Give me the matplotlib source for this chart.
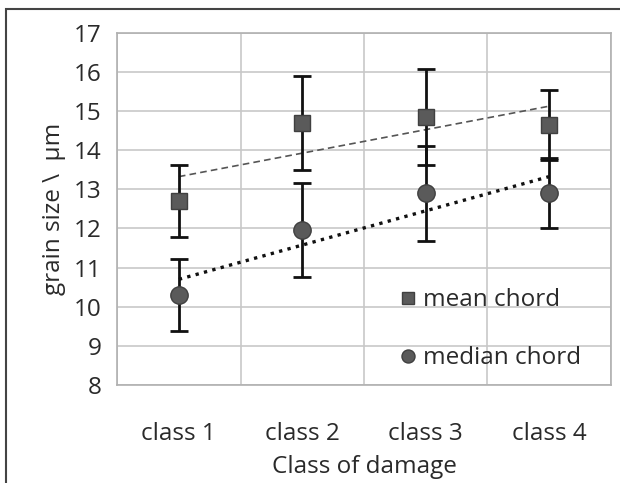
import numpy as np
import matplotlib.pyplot as plt
from matplotlib.patches import Rectangle

plt.rcParams['font.family'] = ['Open Sans', 'DejaVu Sans']

classes = ["class 1", "class 2", "class 3", "class 4"]
mean_chord = [12.7, 14.7, 14.85, 14.65]
mean_err = [0.93, 1.2, 1.22, 0.9]
median_chord = [10.3, 11.95, 12.9, 12.9]
median_err = [0.92, 1.2, 1.22, 0.9]

x = np.arange(1, len(classes) + 1)
fs = 17.5

fig = plt.figure(figsize=(6.2, 4.83), dpi=100)
ax = fig.add_axes([0.189, 0.203, 0.796, 0.729])

txt = '#2a2a2a'
ax.grid(True, color='#c8c8c8', lw=1.2)
ax.set_axisbelow(True)
ax.set_xticks(np.arange(0.5, 4.6, 1), minor=False)
ax.set_xticks(x, minor=True)
ax.set_xticklabels([])
ax.set_xticklabels(classes, minor=True)
ax.tick_params(axis='x', which='both', length=0, pad=27, labelsize=fs, labelcolor=txt)
ax.tick_params(axis='y', length=0, pad=11, labelsize=fs, labelcolor=txt)
ax.set_xlim(0.5, 4.5)
ax.set_ylim(8, 17)
ax.set_yticks(range(8, 18))
for s in ax.spines.values():
    s.set_color('#b0b0b0')
    s.set_linewidth(1.2)

# trend lines
pm = np.polyfit(x, mean_chord, 1)
pd_ = np.polyfit(x, median_chord, 1)
ax.plot(x, np.polyval(pm, x), ls=(0, (4, 2.5)), color='#555555', lw=1.2, zorder=2)
ax.plot(x, np.polyval(pd_, x), ls=(0, (1, 1.6)), color='#111111', lw=2.4, zorder=2)

ax.errorbar(x, mean_chord, yerr=mean_err, fmt='s', ms=12, mfc='#5a5a5a', mec='#404040',
            ecolor='#111111', elinewidth=2, capsize=6.5, capthick=2, zorder=3, label='mean chord')
ax.errorbar(x, median_chord, yerr=median_err, fmt='o', ms=12.5, mfc='#5a5a5a', mec='#404040',
            ecolor='#111111', elinewidth=2, capsize=6.5, capthick=2, zorder=3, label='median chord')

h, l = ax.get_legend_handles_labels()
leg = ax.legend([hh[0] for hh in h], l, loc='upper left', bbox_to_anchor=(0.565, 0.275),
                frameon=False, fontsize=fs, labelspacing=1.4, handletextpad=0.1,
                handlelength=1.0, markerscale=0.75, borderpad=0, borderaxespad=0)
for t in leg.get_texts():
    t.set_color(txt)

ax.set_ylabel('grain size \\  µm', fontsize=fs, color=txt, labelpad=6)
ax.set_xlabel('Class of damage', fontsize=fs, color=txt, labelpad=6)

fig.patches.append(Rectangle((0.01, -0.1), 1.1, 1.082, transform=fig.transFigure,
                             fill=False, edgecolor='#444444', lw=1.5))

fig.savefig('out.png', dpi=100)
